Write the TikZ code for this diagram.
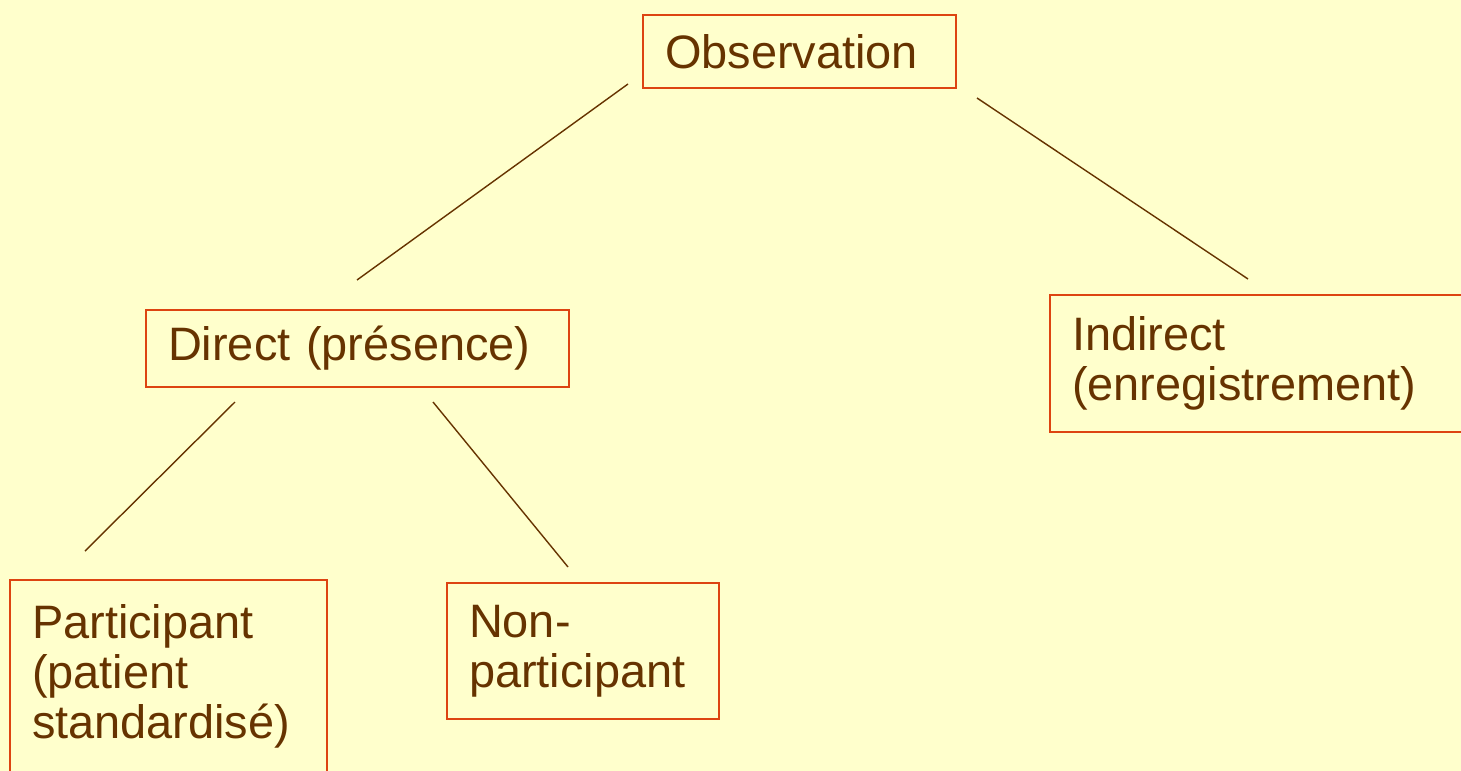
\documentclass[tikz,border=0pt]{standalone}
\usepackage{fontspec}
\setmainfont{Liberation Sans}
\definecolor{bgyellow}{HTML}{FFFFCC}
\definecolor{boxred}{HTML}{DD4411}
\definecolor{inkbrown}{HTML}{663300}
\tikzset{
  box/.style={draw=boxred, line width=1.1pt, text=inkbrown, align=left,
    inner xsep=0.44cm, font=\fontsize{26.7pt}{28.5pt}\selectfont},
  link/.style={draw=inkbrown, line width=0.8pt}
}
\begin{document}
\begin{tikzpicture}[x=0.02cm, y=-0.02cm]
  \useasboundingbox (0,0) rectangle (1461,771);
  \clip (0,0) rectangle (1461,771);
  \fill[bgyellow] (0,0) rectangle (1461,771);

  \node[box, minimum width=6.26cm, minimum height=1.46cm, text width=5.38cm] (obs) at (799.5,51.5) {Observation};
  \node[box, minimum width=8.46cm, minimum height=1.54cm, text width=7.58cm, inner xsep=0.40cm] (dir) at (357.5,348.5) {Direct (présence)};
  \node[box, minimum width=8.5cm, minimum height=2.74cm, text width=7.62cm] (ind) at (1262.5,363.5) {Indirect\\(enregistrement)};
  \node[box, minimum width=6.34cm, minimum height=3.86cm, text width=5.46cm] (par) at (168.5,676.5) {Participant\\(patient\\standardisé)};
  \node[box, minimum width=5.44cm, minimum height=2.72cm, text width=4.56cm] (non) at (583,651) {Non-\\participant};

  % connector ends
  \coordinate (obs-l) at (628,84);
  \coordinate (obs-r) at (977,98);
  \coordinate (dir-up) at (357,280);
  \coordinate (ind-up) at (1248,279);
  \coordinate (dir-l) at (235,402);
  \coordinate (dir-r) at (433,402);
  \coordinate (par-up) at (85,551);
  \coordinate (non-up) at (568,567);

  \draw[link] (obs-l) -- (dir-up);
  \draw[link] (obs-r) -- (ind-up);
  \draw[link] (dir-l) -- (par-up);
  \draw[link] (dir-r) -- (non-up);
\end{tikzpicture}
\end{document}
